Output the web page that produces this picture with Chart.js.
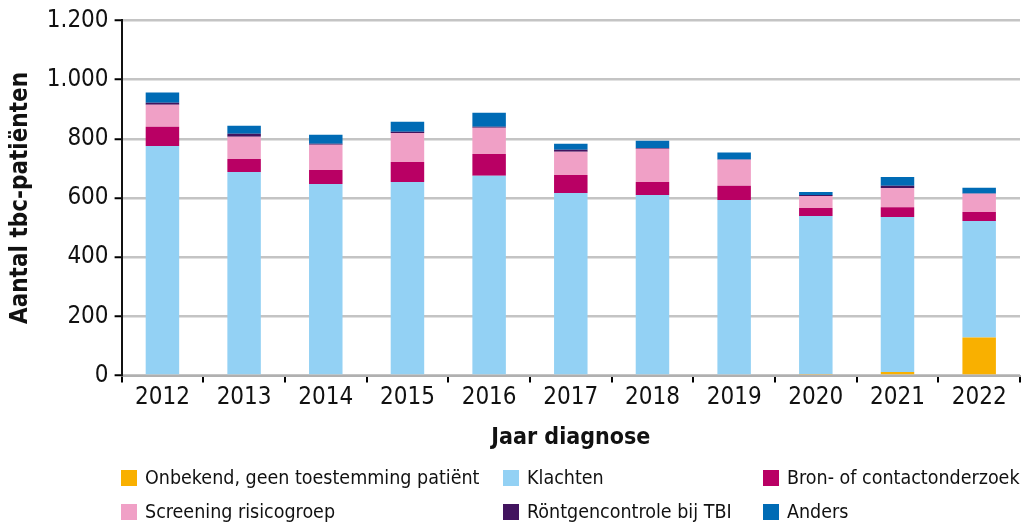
<!DOCTYPE html>
<html>
<head>
<meta charset="utf-8">
<script src="https://cdn.jsdelivr.net/npm/chart.js@4/dist/chart.umd.min.js"></script>
<style>
  html, body { margin: 0; padding: 0; background: #fff; }
  #wrap { position: relative; width: 1024px; height: 524px; }
  #legend { position: absolute; left: 0; top: 0; width: 1024px; height: 524px; pointer-events: none;
    font-family: 'Liberation Sans Narrow', 'DejaVu Sans Condensed', sans-serif; font-size: 19.5px; color: #111; }
  .item { position: absolute; display: flex; align-items: center; white-space: nowrap; }
  .sw { width: 16px; height: 16px; margin-right: 8px; }
</style>
</head>
<body>
<div id="wrap">
  <canvas id="chart" width="1024" height="524"></canvas>
  <div id="legend"></div>
</div>
<script>
const years = ['2012','2013','2014','2015','2016','2017','2018','2019','2020','2021','2022'];
const onbekend   = [0, 0, 0, 0, 0, 0, 0, 0, 5, 12, 129];
const klachten   = [776, 688, 647, 654, 675, 617, 610, 593, 534, 524, 393];
const bron       = [65, 44, 48, 68, 74, 61, 44, 48, 27, 33, 31];
const screening  = [74, 75, 85, 98, 88, 78, 112, 88, 41, 65, 61];
const rontgen    = [7, 10, 3, 4, 4, 7, 3, 1, 3, 7, 1];
const anders     = [34, 27, 31, 34, 47, 20, 24, 24, 10, 30, 20];
const yTicks = [0, 200, 400, 600, 800, 1000, 1200];

const series = [
  { label: 'Onbekend, geen toestemming patiënt', data: onbekend, color: '#f9b000' },
  { label: 'Klachten', data: klachten, color: '#93d1f4' },
  { label: 'Bron- of contactonderzoek', data: bron, color: '#b90064' },
  { label: 'Screening risicogroep', data: screening, color: '#f0a0c6' },
  { label: 'Röntgencontrole bij TBI', data: rontgen, color: '#42145f' },
  { label: 'Anders', data: anders, color: '#006bb5' }
];
const legendPos = [[121, 466], [503, 466], [763, 466], [121, 500], [503, 500], [763, 500]];

const FONT = "'Liberation Sans Narrow', 'DejaVu Sans Condensed', sans-serif";
const fmt = v => new Intl.NumberFormat('nl-NL').format(v);

new Chart(document.getElementById('chart'), {
  type: 'bar',
  data: {
    labels: years,
    datasets: series.map(s => ({ label: s.label, data: s.data, backgroundColor: s.color, borderWidth: 0,
      barPercentage: 0.41, categoryPercentage: 1 }))
  },
  options: {
    responsive: false, animation: false,
    layout: { padding: { top: 16, right: 4, bottom: 68, left: 2 } },
    plugins: { legend: { display: false }, tooltip: { enabled: false } },
    scales: {
      x: {
        stacked: true,
        grid: { display: true, drawOnChartArea: false, offset: true, color: '#000', lineWidth: 2, tickLength: 7 },
        border: { color: '#b0b0b0', width: 2 },
        ticks: { color: '#111', font: { family: FONT, size: 24 }, padding: 1 },
        title: { display: true, text: 'Jaar diagnose', color: '#111', font: { family: FONT, size: 23, weight: 'bold' }, padding: { top: 11 } }
      },
      y: {
        stacked: true, min: 0, max: 1200,
        afterBuildTicks: axis => { axis.ticks = yTicks.map(v => ({ value: v })); },
        grid: { color: '#c4c4c4', lineWidth: 2.5, tickLength: 7, tickColor: '#000', tickWidth: 2 },
        border: { color: '#111', width: 2 },
        ticks: { color: '#111', font: { family: FONT, size: 24 }, padding: 6, callback: v => fmt(v) },
        title: { display: true, text: 'Aantal tbc-patiënten', color: '#111', font: { family: FONT, size: 24, weight: 'bold' }, padding: { bottom: 6 } }
      }
    }
  }
});

const legend = document.getElementById('legend');
series.forEach((s, i) => {
  const el = document.createElement('div');
  el.className = 'item';
  el.style.left = legendPos[i][0] + 'px';
  el.style.top = legendPos[i][1] + 'px';
  el.innerHTML = `<span class="sw" style="background:${s.color}"></span><span>${s.label}</span>`;
  legend.appendChild(el);
});
</script>
</body>
</html>
